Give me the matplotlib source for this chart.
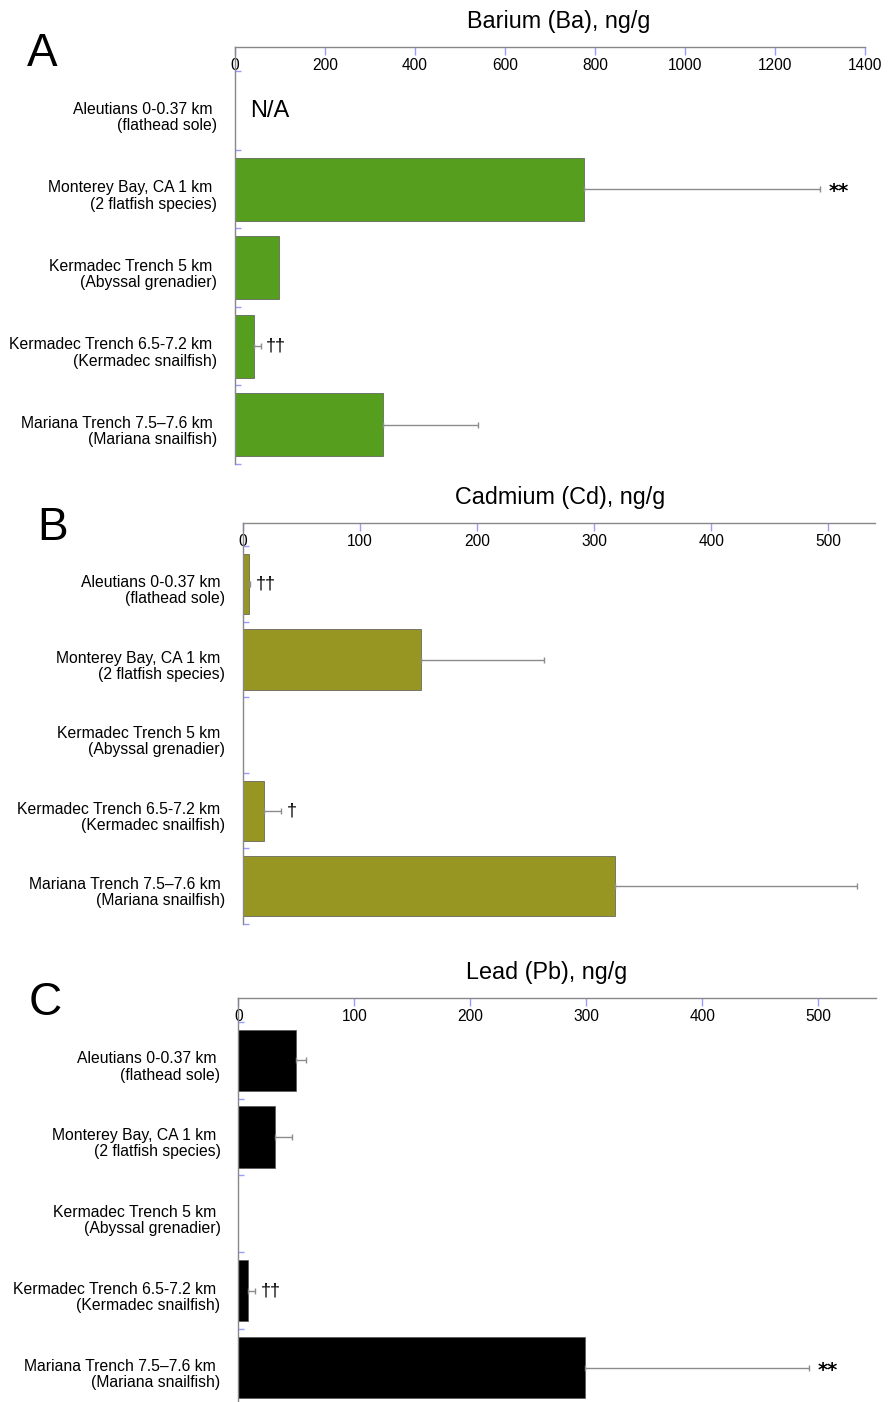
import numpy as np
import matplotlib
matplotlib.use("Agg")
import matplotlib.pyplot as plt

plt.rcParams['font.family'] = ['Liberation Sans', 'DejaVu Sans']

# site labels (same for every panel)
sites = [
    "Aleutians 0-0.37 km \n(flathead sole)",
    "Monterey Bay, CA 1 km \n(2 flatfish species)",
    "Kermadec Trench 5 km \n(Abyssal grenadier)",
    "Kermadec Trench 6.5-7.2 km \n(Kermadec snailfish)",
    "Mariana Trench 7.5\u20137.6 km \n(Mariana snailfish)",
]

# values, ng/g (nan = no bar)
barium = [np.nan, 775, 98, 43, 330]
barium_err = [np.nan, 526, np.nan, 14, 211]
barium_marks = ["", "**", "", "\u2020\u2020", ""]

cadmium = [4.7, 152, np.nan, 18.3, 317.6]
cadmium_err = [1.5, 105, np.nan, 14.4, 207]
cadmium_marks = ["\u2020\u2020", "", "", "\u2020", ""]

lead = [49.8, 31.3, np.nan, 8.0, 298.7]
lead_err = [8.3, 15.2, np.nan, 6.5, 193.7]
lead_marks = ["", "", "", "\u2020\u2020", "**"]

W, H = 890, 1402
fig = plt.figure(figsize=(W / 100, H / 100), dpi=100)


def px_axes(left, right, top, bottom):
    return fig.add_axes([left / W, (H - bottom) / H, (right - left) / W, (bottom - top) / H])


def panel(ax, vals, errs, marks, color, title, title_dx, xmax, xticks, letter, letter_xy):
    y = np.arange(len(sites))
    vals = np.array(vals, dtype=float)
    errs = np.array(errs, dtype=float)
    ax.barh(y, np.nan_to_num(vals), height=0.8, color=color, edgecolor='#555555', linewidth=0.5)
    ok = ~np.isnan(errs)
    ax.errorbar(vals[ok], y[ok], xerr=[np.zeros(ok.sum()), errs[ok]], fmt='none',
                ecolor='#8c8c8c', elinewidth=1, capsize=2, capthick=1)
    for i, m in enumerate(marks):
        if m:
            end = vals[i] + (errs[i] if not np.isnan(errs[i]) else 0)
            if m == "**":
                ax.annotate(m, (end, i), xytext=(6, -2), textcoords='offset points',
                            ha='left', va='center', fontsize=14, fontweight='bold',
                            family='DejaVu Sans')
            else:
                ax.annotate(m, (end, i), xytext=(4, 0), textcoords='offset points',
                            ha='left', va='center', fontsize=13)

    ax.set_xlim(0, xmax)
    ax.set_ylim(4.5, -0.81)
    ax.set_xticks(xticks)
    ax.xaxis.tick_top()
    ax.tick_params(axis='x', direction='in', length=6, width=1, color='#9c9cff',
                   labelsize=11.2, pad=-19)
    # labels sit a touch below the bar centres in the original
    ax.set_yticks(y + 0.06)
    ax.set_yticklabels(sites, fontsize=11.3, linespacing=1.1)
    ax.tick_params(axis='y', which='major', length=0, pad=13)
    ax.set_yticks(np.arange(-0.5, 5, 1), minor=True)
    ax.tick_params(axis='y', which='minor', direction='in', length=4.5, width=1, color='#9c9cff')
    for lab in ax.get_yticklabels():
        lab.set_multialignment('right')

    for s in ['right', 'bottom']:
        ax.spines[s].set_visible(False)
    for s in ['top', 'left']:
        ax.spines[s].set_color('#888888')
        ax.spines[s].set_linewidth(1)

    ax.annotate(title, (0.5, 1), xycoords='axes fraction', xytext=(title_dx, 14),
                textcoords='offset points', ha='center', va='baseline', fontsize=16.8)
    fig.text(letter_xy[0] / W, (H - letter_xy[1]) / H, letter, fontsize=33,
             ha='left', va='baseline')


ax_a = px_axes(235, 865, 47, 464)
panel(ax_a, barium, barium_err, barium_marks, '#569f1e', "Barium (Ba), ng/g", 6,
      1400, np.arange(0, 1401, 200), "A", (27, 66))
ax_a.text(33, 0, "N/A", ha='left', va='center', fontsize=17)

ax_b = px_axes(243, 875, 523, 924)
panel(ax_b, cadmium, cadmium_err, cadmium_marks, '#979623', "Cadmium (Cd), ng/g", 1,
      540, np.arange(0, 501, 100), "B", (37, 540))

ax_c = px_axes(238.5, 876, 998, 1406)
panel(ax_c, lead, lead_err, lead_marks, '#000000', "Lead (Pb), ng/g", -8,
      550, np.arange(0, 501, 100), "C", (29, 1015))

fig.savefig("out.png", dpi=100)
